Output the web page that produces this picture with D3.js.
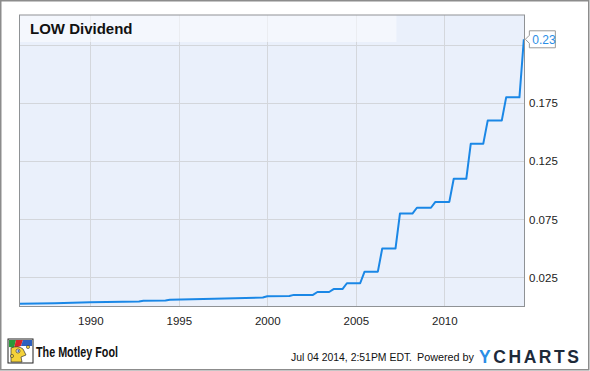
<!DOCTYPE html>
<html>
<head>
<meta charset="utf-8">
<script src="https://cdn.jsdelivr.net/npm/d3@7"></script>
<style>
  body { margin: 0; background: #fff; }
  svg { display: block; font-family: "Liberation Sans", Arial, sans-serif; }
</style>
</head>
<body>
<script>
// corner points of the dividend line
const divDates = [
  "1986-01-01", "1988-01-01", "1990-01-01", "1992-10-01", "1993-01-01",
  "1994-04-01", "1994-07-01", "1997-01-01", "1999-10-01", "2000-01-01",
  "2001-04-01", "2001-07-01", "2002-08-01", "2002-11-01", "2003-07-01",
  "2003-10-01", "2004-04-01", "2004-07-01", "2005-04-01", "2005-07-01",
  "2006-04-01", "2006-07-01", "2007-04-01", "2007-07-01", "2008-03-15",
  "2008-06-15", "2009-04-01", "2009-07-01", "2010-04-15", "2010-07-15",
  "2011-04-01", "2011-07-01", "2012-03-15", "2012-06-15", "2013-04-01",
  "2013-07-01", "2014-04-01", "2014-07-01"
];
const divValues = [
  0.0024, 0.0029, 0.0036, 0.0044, 0.0050,
  0.0052, 0.0058, 0.0066, 0.0078, 0.0088,
  0.0090, 0.0100, 0.0100, 0.0125, 0.0125,
  0.0150, 0.0150, 0.0200, 0.0200, 0.0300,
  0.0300, 0.0500, 0.0500, 0.0800, 0.0800,
  0.0850, 0.0850, 0.0900, 0.0900, 0.1100,
  0.1100, 0.1400, 0.1400, 0.1600, 0.1600,
  0.1800, 0.1800, 0.2300
];
const yearTicks = [1990, 1995, 2000, 2005, 2010];
const valueTicks = [0.025, 0.075, 0.125, 0.175, 0.225];
const lastLabel = "0.23";

const svgWidth = 590;
const svgHeight = 371;
const plot = { left: 19.5, top: 15, right: 524.5, bottom: 306.5 };

const parse = d3.timeParse("%Y-%m-%d");
const data = divDates.map((d, i) => ({ date: parse(d), value: divValues[i] }));

const svg = d3.select("body").append("svg")
  .attr("width", svgWidth)
  .attr("height", svgHeight);

svg.append("rect")
  .attr("x", 0.75).attr("y", 0.75)
  .attr("width", svgWidth - 2).attr("height", svgHeight - 2)
  .attr("fill", "#fff")
  .attr("stroke", "#8c8c8c")
  .attr("stroke-width", 1.5);

const xScale = d3.scaleTime()
  .domain([parse("1986-01-01"), parse("2014-07-04")])
  .range([plot.left, plot.right - 0.5]);

const yScale = d3.scaleLinear()
  .domain([0, 0.2509])
  .range([plot.bottom, plot.top]);

// plot background
svg.append("rect")
  .attr("x", plot.left).attr("y", plot.top)
  .attr("width", plot.right - plot.left).attr("height", plot.bottom - plot.top)
  .attr("fill", "#eaf0fb");

// vertical grid
svg.append("g")
  .selectAll("line")
  .data(yearTicks)
  .join("line")
  .attr("x1", d => Math.round(xScale(new Date(d, 0, 1))) + 0.5)
  .attr("x2", d => Math.round(xScale(new Date(d, 0, 1))) + 0.5)
  .attr("y1", plot.top).attr("y2", plot.bottom)
  .attr("stroke", "#d4d7dc");

// horizontal grid
svg.append("g")
  .selectAll("line")
  .data(valueTicks)
  .join("line")
  .attr("x1", plot.left).attr("x2", plot.right)
  .attr("y1", d => Math.round(yScale(d)) + 0.5)
  .attr("y2", d => Math.round(yScale(d)) + 0.5)
  .attr("stroke", "#d3d6db");

// title band
svg.append("rect")
  .attr("x", plot.left).attr("y", plot.top)
  .attr("width", 377).attr("height", 27)
  .attr("fill", "#fafcff")
  .attr("opacity", 0.6);

svg.append("text")
  .attr("x", 30).attr("y", 34)
  .attr("font-size", 15)
  .attr("font-weight", "bold")
  .attr("fill", "#111")
  .text("LOW Dividend");

// line
const line = d3.line()
  .x(d => xScale(d.date))
  .y(d => yScale(d.value));

svg.append("path")
  .datum(data)
  .attr("d", line)
  .attr("fill", "none")
  .attr("stroke", "#1a87e6")
  .attr("stroke-width", 2)
  .attr("stroke-linejoin", "round");

// plot frame
svg.append("rect")
  .attr("x", plot.left).attr("y", plot.top)
  .attr("width", plot.right - plot.left).attr("height", plot.bottom - plot.top)
  .attr("fill", "none")
  .attr("stroke", "#8f9295");

// x axis labels
const bottomAxis = d3.axisBottom(xScale)
  .tickValues(yearTicks.map(y => new Date(y, 0, 1)))
  .tickFormat(d3.timeFormat("%Y"))
  .tickSize(0)
  .tickPadding(10);

const gx = svg.append("g")
  .attr("transform", `translate(0,${plot.bottom})`)
  .call(bottomAxis);
gx.select(".domain").remove();
gx.selectAll("text")
  .attr("font-size", 11.5)
  .attr("font-family", "'Liberation Sans', Arial, sans-serif")
  .attr("fill", "#222");

// y axis labels on the right (the top one sits under the last-value callout)
const rightAxis = d3.axisRight(yScale)
  .tickValues(valueTicks.filter(v => yScale(v) > yScale(divValues[divValues.length - 1]) + 12))
  .tickFormat(d3.format(".3f"))
  .tickSize(0)
  .tickPadding(4.5);

const gy = svg.append("g")
  .attr("transform", `translate(${plot.right},0)`)
  .call(rightAxis);
gy.select(".domain").remove();
gy.selectAll("text")
  .attr("font-size", 11.5)
  .attr("font-family", "'Liberation Sans', Arial, sans-serif")
  .attr("fill", "#222");

// last value callout
const last = data[data.length - 1];
const ly = yScale(last.value);
const lx = xScale(last.date);
const callout = svg.append("g");
callout.append("path")
  .attr("d", `M${lx + 1.5},${ly} L${lx + 5.5},${ly - 4} L${lx + 5.5},${ly - 8.5} L${lx + 31.5},${ly - 8.5} L${lx + 31.5},${ly + 8.5} L${lx + 5.5},${ly + 8.5} L${lx + 5.5},${ly + 4} Z`)
  .attr("fill", "#fff")
  .attr("stroke", "#9a9a9a");
callout.append("text")
  .attr("x", lx + 8.5).attr("y", ly + 4.5)
  .attr("font-size", 12)
  .attr("fill", "#2a8ee6")
  .text(lastLabel);

// footer: Motley Fool logo
const logo = svg.append("g").attr("transform", "translate(8,339)");
logo.append("rect").attr("width", 25).attr("height", 24).attr("fill", "#fff").attr("stroke", "#222");
logo.append("path").attr("d", "M1,1 L8,1 L6,9 L1,8 Z").attr("fill", "#2a9a3a");
logo.append("path").attr("d", "M8,1 L15,1 L13,7 L6,9 Z").attr("fill", "#d8262a");
logo.append("path").attr("d", "M15,1 L24,1 L24,7 L13,7 Z").attr("fill", "#2d5fbf");
logo.append("path").attr("d", "M3,9 Q10,6 15,10 L18,16 L13,18 L14,23 L3,23 Z").attr("fill", "#f4d23a").attr("stroke", "#333").attr("stroke-width", 0.7);
logo.append("circle").attr("cx", 10).attr("cy", 12).attr("r", 2).attr("fill", "#fff").attr("stroke", "#333").attr("stroke-width", 0.7);
logo.append("circle").attr("cx", 10.3).attr("cy", 12).attr("r", 0.9).attr("fill", "#2d5fbf");
logo.append("circle").attr("cx", 20).attr("cy", 8).attr("r", 1.6).attr("fill", "#f4d23a").attr("stroke", "#333").attr("stroke-width", 0.6);
logo.append("circle").attr("cx", 4).attr("cy", 17).attr("r", 1.6).attr("fill", "#f4d23a").attr("stroke", "#333").attr("stroke-width", 0.6);

svg.append("text")
  .attr("x", 36).attr("y", 356.5)
  .attr("font-size", 14)
  .attr("font-weight", "bold")
  .attr("textLength", 82)
  .attr("lengthAdjust", "spacingAndGlyphs")
  .attr("fill", "#111")
  .text("The Motley Fool");

// footer: timestamp and YCharts
svg.append("text")
  .attr("x", 291).attr("y", 361)
  .attr("font-size", 11)
  .attr("textLength", 121)
  .attr("lengthAdjust", "spacingAndGlyphs")
  .attr("fill", "#111")
  .text("Jul 04 2014, 2:51PM EDT.");

svg.append("text")
  .attr("x", 417).attr("y", 361)
  .attr("font-size", 11)
  .attr("textLength", 57)
  .attr("lengthAdjust", "spacingAndGlyphs")
  .attr("fill", "#111")
  .text("Powered by");

const yc = svg.append("text")
  .attr("x", 479).attr("y", 362.5)
  .attr("font-size", 17.5)
  .attr("font-weight", "bold")
  .attr("textLength", 100)
  .attr("lengthAdjust", "spacing");
yc.append("tspan").attr("fill", "#2b8ee6").text("Y");
yc.append("tspan").attr("fill", "#1d2a3a").text("CHARTS");
</script>
</body>
</html>
